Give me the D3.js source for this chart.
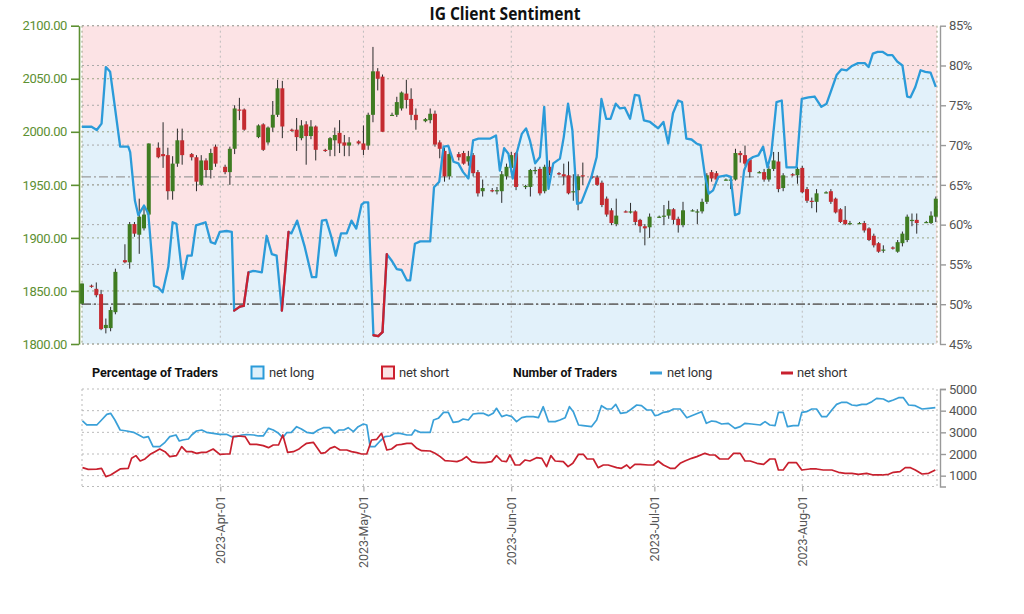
<!DOCTYPE html>
<html>
<head>
<meta charset="utf-8">
<script src="https://cdn.jsdelivr.net/npm/d3@7"></script>
<style>
  body { margin: 0; background: #fff; }
  svg text { font-family: Roboto, "Noto Sans", sans-serif; }
</style>
</head>
<body>
<svg id="chart" width="1024" height="614"></svg>
<script>
// daily candles: [date, open, high, low, close]
const candles = [
  ["2023-03-03",1838,1857,1837,1857],["2023-03-05",1855,1856,1853,1854],["2023-03-06",1852,1858,1844,1846],
  ["2023-03-07",1847,1851,1813,1814],["2023-03-08",1815,1824,1810,1818],["2023-03-09",1815,1835,1812,1832],
  ["2023-03-10",1830,1871,1828,1868],["2023-03-12",1879,1894,1876,1877],["2023-03-13",1877,1915,1871,1913],
  ["2023-03-14",1913,1915,1901,1904],["2023-03-15",1903,1937,1885,1920],["2023-03-16",1909,1929,1907,1922],
  ["2023-03-17",1922,1989,1921,1989],["2023-03-19",1985,1990,1975,1976],["2023-03-20",1979,2009,1966,1977],
  ["2023-03-21",1978,1985,1936,1944],["2023-03-22",1944,1977,1936,1970],["2023-03-23",1970,2003,1967,1992],
  ["2023-03-24",1992,2003,1969,1978],["2023-03-26",1979,1980,1973,1976],["2023-03-27",1976,1978,1944,1953],
  ["2023-03-28",1950,1978,1949,1973],["2023-03-29",1973,1975,1957,1964],["2023-03-30",1964,1984,1956,1980],
  ["2023-03-31",1986,1988,1967,1970],["2023-04-02",1967,1969,1960,1962],["2023-04-03",1962,1986,1950,1984],
  ["2023-04-04",1984,2025,1979,2022],["2023-04-05",2021,2032,2011,2020],["2023-04-06",2021,2022,2001,2002],
  ["2023-04-09",1995,2007,1994,2006],["2023-04-10",2007,2008,1982,1983],["2023-04-11",1990,2005,1988,2004],
  ["2023-04-12",2004,2029,2000,2016],["2023-04-13",2016,2049,2014,2041],["2023-04-14",2041,2048,1994,2005],
  ["2023-04-16",2002,2003,2000,2001],["2023-04-17",2002,2013,1982,1995],["2023-04-18",1994,2011,1992,2006],
  ["2023-04-19",2007,2010,1969,1996],["2023-04-20",1996,2011,1993,2005],["2023-04-21",2005,2006,1973,1983],
  ["2023-04-23",1983,1984,1981,1982],["2023-04-24",1983,1995,1977,1994],["2023-04-25",1992,2004,1977,1997],
  ["2023-04-26",1999,2011,1980,1989],["2023-04-27",1990,1997,1977,1987],["2023-04-28",1987,1995,1977,1990],
  ["2023-04-30",1991,1992,1988,1989],["2023-05-01",1989,2006,1978,1983],["2023-05-02",1987,2018,1983,2016],
  ["2023-05-03",2016,2080,2009,2057],["2023-05-04",2057,2060,2039,2050],["2023-05-05",2052,2054,2000,2000],
  ["2023-05-07",2016,2018,2015,2016],["2023-05-08",2016,2033,2014,2028],["2023-05-09",2022,2038,2020,2037],
  ["2023-05-10",2036,2049,2022,2030],["2023-05-11",2031,2041,2011,2016],["2023-05-12",2016,2022,2002,2011],
  ["2023-05-14",2010,2013,2009,2012],["2023-05-15",2011,2022,2008,2017],["2023-05-16",2017,2020,1986,1988],
  ["2023-05-17",1990,1992,1975,1984],["2023-05-18",1982,1985,1953,1958],["2023-05-19",1958,1984,1955,1979],
  ["2023-05-21",1979,1981,1973,1976],["2023-05-22",1980,1982,1969,1970],["2023-05-23",1972,1982,1968,1977],
  ["2023-05-24",1978,1980,1958,1961],["2023-05-25",1962,1964,1939,1942],["2023-05-26",1944,1955,1939,1947],
  ["2023-05-28",1945,1947,1943,1944],["2023-05-29",1944,1948,1941,1945],["2023-05-30",1944,1963,1933,1960],
  ["2023-05-31",1958,1970,1955,1967],["2023-06-01",1966,1981,1962,1978],["2023-06-02",1980,1981,1945,1948],
  ["2023-06-04",1948,1950,1946,1949],["2023-06-05",1948,1965,1939,1964],["2023-06-06",1963,1967,1960,1964],
  ["2023-06-07",1965,1967,1940,1942],["2023-06-08",1944,1969,1942,1967],["2023-06-09",1967,1973,1959,1961],
  ["2023-06-11",1961,1962,1959,1960],["2023-06-12",1960,1970,1950,1958],["2023-06-13",1959,1972,1941,1942],
  ["2023-06-14",1943,1960,1935,1944],["2023-06-15",1945,1960,1926,1958],["2023-06-16",1959,1971,1950,1958],
  ["2023-06-18",1958,1959,1956,1957],["2023-06-19",1957,1959,1949,1950],["2023-06-20",1952,1954,1929,1931],
  ["2023-06-21",1937,1939,1920,1922],["2023-06-22",1926,1928,1912,1914],["2023-06-23",1913,1937,1911,1921],
  ["2023-06-25",1925,1926,1924,1924],["2023-06-26",1924,1933,1923,1925],["2023-06-27",1925,1926,1912,1915],
  ["2023-06-28",1917,1918,1905,1911],["2023-06-29",1911,1913,1893,1909],["2023-06-30",1910,1923,1900,1920],
  ["2023-07-02",1920,1921,1919,1920],["2023-07-03",1920,1931,1912,1921],["2023-07-04",1921,1935,1918,1927],
  ["2023-07-05",1927,1928,1913,1917],["2023-07-06",1918,1920,1905,1912],["2023-07-07",1912,1934,1910,1926],
  ["2023-07-09",1926,1927,1925,1926],["2023-07-10",1925,1927,1913,1925],["2023-07-11",1925,1937,1923,1934],
  ["2023-07-12",1934,1961,1932,1959],["2023-07-13",1962,1964,1953,1956],["2023-07-14",1961,1963,1951,1955],
  ["2023-07-16",1955,1956,1954,1955],["2023-07-17",1955,1958,1946,1955],["2023-07-18",1955,1984,1954,1980],
  ["2023-07-19",1980,1982,1971,1978],["2023-07-20",1978,1987,1968,1970],["2023-07-21",1974,1975,1957,1962],
  ["2023-07-23",1962,1963,1961,1962],["2023-07-24",1962,1965,1953,1955],["2023-07-25",1955,1968,1953,1965],
  ["2023-07-26",1965,1981,1963,1973],["2023-07-27",1972,1981,1943,1946],["2023-07-28",1947,1961,1944,1959],
  ["2023-07-30",1960,1961,1958,1959],["2023-07-31",1959,1967,1951,1965],["2023-08-01",1966,1968,1942,1943],
  ["2023-08-02",1946,1948,1933,1935],["2023-08-03",1935,1938,1928,1934],["2023-08-04",1934,1946,1924,1942],
  ["2023-08-06",1943,1944,1942,1943],["2023-08-07",1944,1946,1932,1934],["2023-08-08",1937,1938,1923,1924],
  ["2023-08-09",1927,1928,1914,1915],["2023-08-10",1917,1930,1912,1913],["2023-08-11",1913,1916,1912,1914],
  ["2023-08-13",1914,1915,1913,1914],["2023-08-14",1914,1916,1905,1907],["2023-08-15",1909,1910,1897,1898],
  ["2023-08-16",1902,1904,1891,1893],["2023-08-17",1895,1896,1886,1887],["2023-08-18",1889,1893,1886,1889],
  ["2023-08-20",1891,1892,1889,1890],["2023-08-21",1887,1898,1886,1896],["2023-08-22",1895,1906,1892,1904],
  ["2023-08-23",1898,1922,1896,1920],["2023-08-24",1917,1923,1911,1917],["2023-08-25",1917,1923,1904,1914],
  ["2023-08-27",1915,1916,1914,1915],["2023-08-28",1914,1925,1913,1921],["2023-08-29",1920,1939,1915,1937]
];

// % of clients net long: [days since 2023-03-03, percent]
const netLongPct = [
  [0,72.3],[2.0,72.3],[3.1,71.9],[4.1,72.7],[5.0,79.8],[5.9,79.2],[6.6,76.1],[8.0,69.8],[9.7,69.8],[10.1,69.1],
  [11.1,63.0],[11.8,61.2],[12.2,61.6],[13.0,62.4],[13.9,61.4],[14.6,56.3],[15.1,52.3],[16.0,52.1],[16.9,51.5],
  [18.1,54.7],[19.0,60.3],[19.8,60.1],[21.1,53.2],[22.1,56.1],[23.0,56.1],[23.9,59.9],[24.9,60.1],[25.9,60.3],
  [27.0,57.8],[27.9,57.6],[28.9,59.1],[30.3,59.2],[31.4,59.1],[31.9,49.2],[33.1,49.7],[33.9,49.8],[34.9,54.0],
  [35.9,54.2],[37.7,54.0],[38.7,58.6],[39.8,56.3],[40.8,56.1],[41.9,49.2],[43.3,59.1],[43.9,58.9],[45.1,60.5],
  [46.7,57.2],[48.2,53.4],[49.1,53.4],[50.3,60.5],[51.2,60.6],[52.3,58.4],[53.2,56.1],[54.3,58.9],[55.5,58.9],
  [56.5,60.5],[57.5,59.5],[58.6,62.5],[59.2,62.8],[60.0,62.8],[61.1,46.1],[62.1,46.0],[63.0,46.5],[63.9,56.3],
  [64.9,55.5],[66.0,54.4],[67.0,54.3],[68.1,53.0],[68.8,53.0],[69.8,57.6],[70.9,57.9],[73.0,57.9],[73.8,64.7],
  [74.9,65.4],[75.8,69.8],[76.8,69.9],[77.9,67.9],[78.9,67.7],[79.9,66.6],[81.0,65.8],[82.0,70.6],[83.1,70.8],
  [84.1,70.8],[85.5,70.8],[86.8,71.2],[87.6,66.8],[88.5,69.6],[89.4,68.9],[90.3,65.8],[91.1,68.9],[92.2,71.4],
  [93.1,72.1],[93.9,70.6],[95.0,67.7],[96.0,68.5],[96.9,74.8],[97.8,64.5],[98.8,67.7],[100.2,68.3],[101.0,71.0],
  [101.9,75.2],[102.8,71.9],[103.8,62.6],[104.7,62.8],[105.8,64.5],[106.8,66.0],[107.9,68.5],[108.9,75.8],
  [109.9,73.3],[110.8,73.3],[111.9,75.2],[112.8,74.6],[113.8,74.7],[114.9,73.3],[115.9,76.3],[116.8,76.2],
  [117.8,73.1],[119.1,72.9],[120.8,72.1],[121.9,72.9],[122.9,70.2],[123.9,74.0],[125.0,75.6],[125.8,75.4],
  [126.7,70.8],[127.8,70.7],[128.8,70.2],[129.7,70.0],[130.6,66.2],[131.4,63.9],[132.3,64.3],[133.4,66.0],
  [135.1,66.2],[136.0,66.0],[136.9,61.2],[137.8,61.4],[138.8,66.8],[139.7,68.1],[140.7,68.5],[141.8,68.7],
  [142.8,69.8],[143.7,67.2],[144.5,68.9],[145.6,75.4],[146.7,75.6],[147.7,67.2],[148.8,67.2],[149.8,67.2],
  [150.9,75.8],[152.3,76.0],[153.6,76.1],[155.0,74.8],[156.1,75.2],[157.1,76.9],[158.2,78.8],[159.2,79.5],
  [160.3,79.4],[161.3,79.9],[162.7,80.3],[164.1,80.3],[164.9,79.8],[165.8,81.5],[166.8,81.7],[167.9,81.7],
  [168.9,81.3],[169.9,81.3],[170.9,80.5],[172.0,80.0],[173.0,76.1],[173.7,76.0],[174.7,77.3],[175.8,79.4],
  [176.8,79.2],[177.9,79.1],[179.0,77.3]
];

// number of traders: [days since 2023-03-03, count]
const netLongCount = [
  [0.1,3524],[1.0,3340],[3.1,3340],[4.1,3570],[5.2,3830],[6.0,3877],[6.9,3570],[8.0,3108],[9.4,3062],[10.8,3000],
  [12.2,2847],[12.9,2755],[13.9,2800],[14.9,2339],[16.3,2339],[17.4,2539],[18.4,2800],[19.7,2878],[20.4,2600],
  [21.1,2647],[22.3,2693],[23.0,2878],[24.0,3062],[25.1,3108],[26.1,3000],[27.5,2955],[28.9,2908],[30.3,2908],
  [31.4,2800],[32.4,2800],[33.5,2878],[34.5,2900],[36.0,2878],[37.0,2832],[38.0,2832],[39.1,3185],[40.1,3108],
  [41.2,2955],[42.1,2755],[42.9,2985],[43.9,3000],[45.0,3262],[46.0,3154],[47.1,3000],[48.5,2955],[49.5,3108],
  [50.6,3215],[51.9,3215],[53.0,2955],[53.9,3108],[54.9,3108],[55.8,3215],[56.9,3031],[57.9,3262],[59.0,3385],
  [59.7,3339],[60.4,2339],[61.4,2339],[62.5,2600],[63.5,2800],[64.6,2832],[65.6,2955],[66.7,2955],[68.1,2878],
  [69.1,2878],[69.8,3108],[70.9,3000],[73.0,3000],[73.7,3570],[74.7,3647],[75.8,3923],[76.8,3923],[77.8,3462],
  [78.9,3493],[79.9,3616],[81.0,3570],[82.0,3847],[83.1,3877],[84.1,3877],[85.2,3770],[86.2,3877],[86.9,4108],
  [88.0,3723],[89.0,3800],[90.1,3723],[91.1,3493],[92.2,3677],[93.2,3723],[94.6,3723],[95.7,3677],[96.7,4185],
  [97.8,3493],[99.2,3493],[100.2,3570],[101.3,3677],[102.2,4185],[103.0,3954],[104.1,3339],[105.1,3308],
  [106.8,3262],[107.9,3570],[108.9,4231],[110.0,4077],[111.0,4077],[111.9,4292],[112.9,3877],[114.2,3923],
  [115.2,4077],[116.3,4262],[117.3,4231],[118.4,4031],[119.4,4031],[120.1,3770],[120.8,3800],[121.9,3923],
  [122.9,3954],[124.0,4077],[125.4,4077],[126.8,3677],[128.2,3800],[129.9,3954],[130.9,3416],[132.0,3524],
  [133.0,3493],[134.1,3385],[135.5,3416],[136.9,3185],[138.0,3262],[139.0,3416],[140.4,3385],[142.2,3339],
  [143.2,3493],[144.2,3339],[145.3,3308],[146.0,3923],[147.0,3923],[147.9,3262],[149.1,3308],[150.2,3308],
  [150.9,3923],[151.9,3954],[153.0,4077],[154.0,4077],[155.1,3723],[156.1,3723],[157.2,4031],[158.2,4292],
  [159.3,4385],[160.3,4385],[161.4,4262],[162.4,4231],[163.5,4292],[164.5,4292],[165.6,4415],[166.6,4569],
  [168.0,4539],[169.1,4415],[170.1,4492],[171.2,4600],[172.2,4600],[173.3,4262],[174.7,4231],[176.1,4077],
  [177.5,4108],[178.9,4139]
];
const netShortCount = [
  [0.1,1370],[1.3,1293],[3.1,1300],[4.1,1340],[5.0,955],[6.0,1032],[8.0,1309],[9.7,1340],[10.4,1800],[11.3,1924],
  [12.2,1678],[13.2,1770],[14.3,1985],[15.3,2108],[16.3,2231],[17.4,2108],[18.4,1878],[19.8,1924],[20.9,2339],
  [21.9,2108],[23.0,2108],[24.0,2031],[25.1,2077],[26.1,2077],[27.5,2231],[28.9,1985],[30.3,2000],[31.0,2000],
  [31.7,2800],[32.8,2832],[34.2,2800],[35.2,2447],[36.6,2447],[38.0,2385],[39.1,2293],[40.1,2416],[41.2,2416],
  [42.1,2878],[43.1,2077],[44.3,2108],[45.4,2216],[46.1,2339],[47.1,2493],[48.5,2539],[50.1,2031],[51.0,2062],
  [52.0,2262],[53.0,2339],[54.1,2185],[55.5,2185],[56.5,2108],[57.6,2062],[58.6,2000],[59.7,2000],[60.7,2647],
  [61.8,2677],[62.8,2955],[63.9,2185],[64.9,2231],[66.0,2416],[67.0,2447],[68.1,2493],[69.1,2493],[70.2,2262],
  [71.2,2154],[73.0,2139],[74.0,2031],[75.1,1878],[76.1,1693],[77.2,1678],[78.6,1647],[79.6,1724],[80.6,1878],
  [81.7,1647],[83.1,1601],[84.5,1601],[85.9,1647],[86.9,1924],[88.0,1678],[89.0,1647],[89.7,1955],[90.8,1493],
  [91.8,1493],[92.9,1724],[93.9,1678],[95.3,1832],[96.4,1800],[97.4,1416],[98.3,1924],[99.2,1678],[100.9,1647],
  [101.9,1416],[102.9,1570],[104.1,1985],[105.1,1985],[105.9,1770],[107.2,1770],[108.2,1370],[109.3,1493],
  [110.3,1493],[112.1,1370],[113.1,1340],[114.2,1493],[114.9,1340],[115.9,1524],[117.0,1524],[118.7,1493],
  [119.8,1493],[120.8,1678],[121.9,1493],[123.3,1340],[124.3,1340],[125.4,1570],[126.4,1678],[127.8,1800],
  [128.9,1878],[130.6,2031],[131.6,1955],[132.7,1955],[133.7,1770],[135.5,1770],[136.6,2031],[138.0,2031],
  [139.0,1678],[140.1,1678],[141.5,1570],[142.9,1524],[144.2,1770],[145.3,1770],[146.0,1262],[147.0,1262],
  [148.1,1601],[149.8,1601],[150.9,1262],[152.6,1309],[154.0,1309],[155.4,1262],[157.2,1262],[158.6,1155],
  [160.0,1108],[161.4,1108],[162.8,1062],[164.5,1108],[165.9,1032],[167.7,1032],[169.1,1062],[170.1,1155],
  [171.5,1185],[172.6,1370],[173.7,1370],[174.7,1262],[176.1,1077],[177.5,1108],[178.9,1262]
];

const priceTicks = [1800, 1850, 1900, 1950, 2000, 2050, 2100];
const pctTicks = [45, 50, 55, 60, 65, 70, 75, 80, 85];
const countTicks = [1000, 2000, 3000, 4000, 5000];
const refLevels = { pct: 50, price: 1957.5 };

const svg = d3.select('#chart');
const start = new Date(2023, 2, 3);
const atDay = t => new Date(+start + t * 864e5);
const parse = d3.timeParse('%Y-%m-%d');

const L = 82, R = 937, T = 25.7, B = 344;
const x = d3.scaleTime().domain([start, new Date(2023, 7, 29, 6)]).range([L, R]);
const yP = d3.scaleLinear().domain([1800, 2100]).range([B, T]);
const yS = d3.scaleLinear().domain([45, 85]).range([B, T]);
const yN = d3.scaleLinear().domain([500, 5000]).range([486.5, 389]);
const months = x.ticks(d3.timeMonth.every(1));

const BLUE = '#2b9bd9', RED = '#cc1f2e', GREEN = '#5d9032';

// title
svg.append('text')
  .attr('x', 505).attr('y', 20)
  .attr('text-anchor', 'middle')
  .attr('textLength', 151).attr('lengthAdjust', 'spacingAndGlyphs')
  .style('font-family', '"Open Sans", sans-serif')
  .style('font-weight', 700).style('font-size', '17px').attr('fill', '#111')
  .text('IG Client Sentiment');

// ---- main panel ----
const sent = netLongPct.map(([t, v]) => ({ d: atDay(t), v }));

svg.append('rect').attr('x', L).attr('y', T).attr('width', R - L).attr('height', B - T).attr('fill', '#fce3e5');
svg.append('path').datum(sent)
  .attr('d', d3.area().x(d => x(d.d)).y0(B).y1(d => yS(d.v)))
  .attr('fill', '#e2f1fa');

const grid = svg.append('g').attr('fill', 'none');
priceTicks.forEach(p => grid.append('line').attr('x1', L).attr('x2', R).attr('y1', yP(p)).attr('y2', yP(p))
  .attr('stroke', '#9aa383').attr('stroke-dasharray', '2,3'));
pctTicks.forEach(p => grid.append('line').attr('x1', L).attr('x2', R).attr('y1', yS(p)).attr('y2', yS(p))
  .attr('stroke', '#a9a9a9').attr('stroke-dasharray', '2,3'));
months.forEach(m => {
  grid.append('line').attr('x1', x(m)).attr('x2', x(m)).attr('y1', T).attr('y2', B)
    .attr('stroke', '#bcbcbc').attr('stroke-dasharray', '2,3');
  grid.append('line').attr('x1', x(m)).attr('x2', x(m)).attr('y1', yN(5000)).attr('y2', yN(500))
    .attr('stroke', '#c4c4c4').attr('stroke-dasharray', '2,3');
});
[L, R].forEach(v => {
  grid.append('line').attr('x1', v).attr('x2', v).attr('y1', T).attr('y2', B)
    .attr('stroke', '#9aa383').attr('stroke-dasharray', '2,3');
  grid.append('line').attr('x1', v).attr('x2', v).attr('y1', yN(5000)).attr('y2', yN(500))
    .attr('stroke', '#bbb').attr('stroke-dasharray', '2,3');
});

grid.append('line').attr('x1', L).attr('x2', R).attr('y1', yP(refLevels.price)).attr('y2', yP(refLevels.price))
  .attr('stroke', '#9c9c9c').attr('stroke-width', 1.4).attr('stroke-dasharray', '9,3,2,3');
grid.append('line').attr('x1', L).attr('x2', R).attr('y1', yS(refLevels.pct)).attr('y2', yS(refLevels.pct))
  .attr('stroke', '#6f6f6f').attr('stroke-width', 1.8).attr('stroke-dasharray', '9,3,2,3');

// candles
const cg = svg.append('g');
const bars = cg.selectAll('g').data(candles).join('g')
  .attr('transform', d => `translate(${x(parse(d[0]))},0)`);
bars.append('line')
  .attr('y1', d => yP(d[2])).attr('y2', d => yP(d[3]))
  .attr('stroke', '#2b2b2b').attr('stroke-width', 1);
bars.append('rect')
  .attr('x', -2).attr('width', 4)
  .attr('y', d => yP(Math.max(d[1], d[4])))
  .attr('height', d => Math.max(1.2, Math.abs(yP(d[1]) - yP(d[4]))))
  .attr('fill', d => d[4] >= d[1] ? '#3f7c22' : '#c42b30');

// sentiment line, red where net long starts below 50%
const sline = d3.line().x(d => x(d.d)).y(d => yS(d.v));
svg.append('path').datum(sent).attr('d', sline)
  .attr('fill', 'none').attr('stroke', BLUE).attr('stroke-width', 2.3).attr('stroke-linejoin', 'round');
const redSegs = d3.pairs(sent).filter(p => p[0].v < 50);
svg.append('g').selectAll('path').data(redSegs).join('path')
  .attr('d', sline)
  .attr('fill', 'none').attr('stroke', RED).attr('stroke-width', 2.3).attr('stroke-linecap', 'round');

// left price axis
const axL = svg.append('g').attr('transform', 'translate(79,0)')
  .call(d3.axisLeft(yP).tickValues(priceTicks).tickFormat(d3.format('.2f')).tickSize(8).tickSizeOuter(0));
axL.select('.domain').attr('stroke', GREEN).attr('stroke-width', 1.6);
axL.selectAll('.tick line').attr('stroke', GREEN).attr('stroke-width', 1.6);
axL.selectAll('text').attr('fill', GREEN).style('font-size', '13px').style('letter-spacing', '-0.4px').attr('x', -12);

// right pct axis
const axR = svg.append('g').attr('transform', 'translate(940,0)')
  .call(d3.axisRight(yS).tickValues(pctTicks).tickFormat(d => d + '%').tickSize(6).tickSizeOuter(0));
axR.select('.domain').attr('stroke', '#999').attr('stroke-width', 1.4);
axR.selectAll('.tick line').attr('stroke', '#999').attr('stroke-width', 1.4);
axR.selectAll('text').attr('fill', '#555').style('font-size', '13px').style('letter-spacing', '-0.4px').attr('x', 9);

// ---- lower panel ----
countTicks.concat([500]).forEach(c => grid.append('line').attr('x1', L).attr('x2', R).attr('y1', yN(c)).attr('y2', yN(c))
  .attr('stroke', '#bbb').attr('stroke-dasharray', '2,3'));

const nline = d3.line().x(d => x(atDay(d[0]))).y(d => yN(d[1]));
svg.append('path').datum(netLongCount).attr('d', nline)
  .attr('fill', 'none').attr('stroke', '#3aa0d8').attr('stroke-width', 1.7).attr('stroke-linejoin', 'round');
svg.append('path').datum(netShortCount).attr('d', nline)
  .attr('fill', 'none').attr('stroke', '#c8202e').attr('stroke-width', 1.7).attr('stroke-linejoin', 'round');

const axN = svg.append('g').attr('transform', 'translate(940,0)')
  .call(d3.axisRight(yN).tickValues(countTicks).tickFormat(d3.format('d')).tickSize(6).tickSizeOuter(6));
axN.select('.domain').attr('stroke', '#999').attr('stroke-width', 1.4);
axN.selectAll('.tick line').attr('stroke', '#999').attr('stroke-width', 1.4);
axN.selectAll('text').attr('fill', '#555').style('font-size', '13px').style('letter-spacing', '-0.4px').attr('x', 9);

const axX = svg.append('g').attr('transform', `translate(0,${yN(500)})`)
  .call(d3.axisBottom(x).tickValues(months).tickFormat(d3.timeFormat('%Y-%b-%d')).tickSize(5));
axX.select('.domain').remove();
axX.selectAll('.tick line').attr('stroke', '#999');
axX.selectAll('text')
  .attr('transform', 'rotate(-90)')
  .attr('text-anchor', 'end')
  .attr('x', -9).attr('y', 0).attr('dy', '0.35em')
  .attr('fill', '#555').style('font-size', '12.5px');

// ---- legend ----
const lg = svg.append('g');
const ly = 377;
lg.append('text').attr('x', 92).attr('y', ly).attr('textLength', 126).attr('lengthAdjust', 'spacingAndGlyphs')
  .style('font-weight', 700).style('font-size', '12.5px').attr('fill', '#111').text('Percentage of Traders');
lg.append('rect').attr('x', 251.5).attr('y', 366.5).attr('width', 12).attr('height', 12)
  .attr('fill', '#def0fa').attr('stroke', BLUE).attr('stroke-width', 2);
lg.append('text').attr('x', 269).attr('y', ly).style('font-size', '13px').style('letter-spacing', '-0.2px')
  .attr('fill', '#333').text('net long');
lg.append('rect').attr('x', 382).attr('y', 366.5).attr('width', 12).attr('height', 12)
  .attr('fill', '#fbe3e5').attr('stroke', RED).attr('stroke-width', 2);
lg.append('text').attr('x', 399).attr('y', ly).style('font-size', '13px').style('letter-spacing', '-0.2px')
  .attr('fill', '#333').text('net short');
lg.append('text').attr('x', 513).attr('y', ly).attr('textLength', 104).attr('lengthAdjust', 'spacingAndGlyphs')
  .style('font-weight', 700).style('font-size', '12.5px').attr('fill', '#111').text('Number of Traders');
lg.append('line').attr('x1', 650).attr('x2', 662).attr('y1', 373).attr('y2', 373)
  .attr('stroke', '#3aa0d8').attr('stroke-width', 3);
lg.append('text').attr('x', 667).attr('y', ly).style('font-size', '13px').style('letter-spacing', '-0.2px')
  .attr('fill', '#333').text('net long');
lg.append('line').attr('x1', 781).attr('x2', 793).attr('y1', 373).attr('y2', 373)
  .attr('stroke', '#c8202e').attr('stroke-width', 3);
lg.append('text').attr('x', 797).attr('y', ly).style('font-size', '13px').style('letter-spacing', '-0.2px')
  .attr('fill', '#333').text('net short');
</script>
</body>
</html>
